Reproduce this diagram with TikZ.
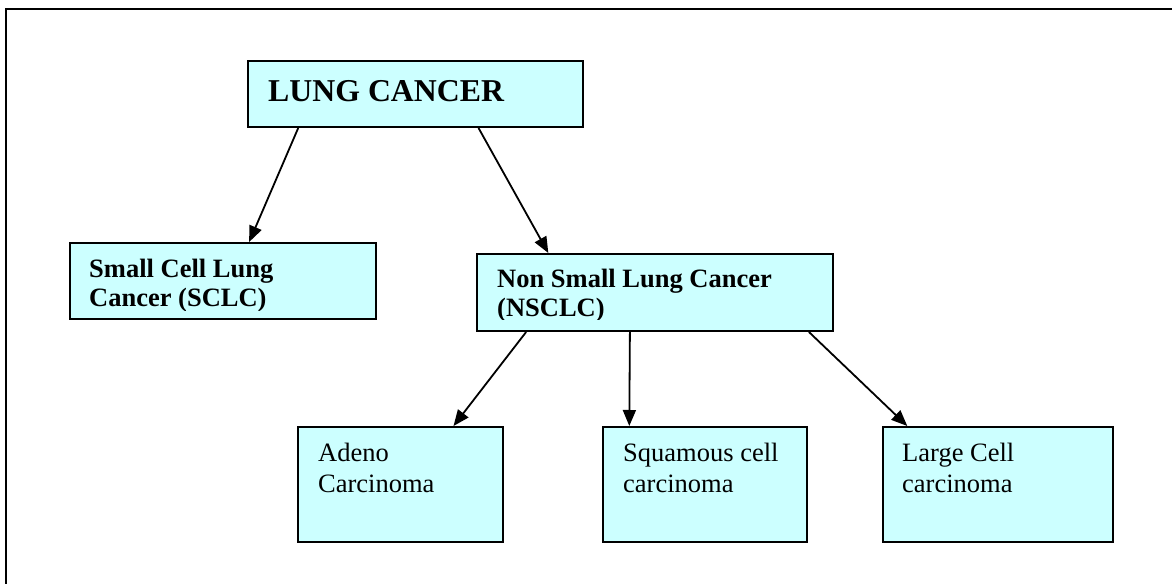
\documentclass[tikz,border=0pt]{standalone}
\usepackage{fontspec}
\setmainfont{Liberation Serif}
\usetikzlibrary{arrows.meta,calc}
\definecolor{boxfill}{HTML}{CCFFFF}
\tikzset{
  box/.style={draw=black, fill=boxfill, line width=2bp, rectangle, inner sep=0, anchor=north west},
  lbl/.style={anchor=base west, inner sep=0, font=\fontsize{26.5bp}{31bp}\selectfont},
  blbl/.style={anchor=base west, inner sep=0, font=\fontsize{26.5bp}{31bp}\selectfont\bfseries},
  arr/.style={line width=1.8bp, -{Triangle[length=16bp,width=13bp]}},
  frame/.style={line width=2.5bp}
}
\begin{document}
\begin{tikzpicture}[x=1bp,y=-1bp]
\useasboundingbox (0,0) rectangle (1172,584);
\fill[white] (0,0) rectangle (1172,584);
% outer frame (top and left edges only)
\coordinate (f1) at (1172,9);
\coordinate (f2) at (6,9);
\coordinate (f3) at (6,584);
\draw[frame] (f1) -- (f2) -- (f3);

% boxes
\node[box, minimum width=335bp, minimum height=66bp] (lung) at (247,60) {};
\node[box, minimum width=306bp, minimum height=76bp] (sclc) at (69,242) {};
\node[box, minimum width=356bp, minimum height=77bp] (nsclc) at (476,253) {};
\node[box, minimum width=205bp, minimum height=115bp] (adeno) at (297,426) {};
\node[box, minimum width=204bp, minimum height=115bp] (squam) at (602,426) {};
\node[box, minimum width=230bp, minimum height=115bp] (large) at (882,426) {};

% texts
\node[anchor=base west, inner sep=0, font=\fontsize{31.8bp}{36bp}\selectfont\bfseries] (t1) at (268,102) {LUNG CANCER};
\begin{scope}
\clip (70,243) rectangle (374,310);
\node[blbl] (t2a) at (89,278) {Small Cell Lung};
\node[blbl] (t2b) at (89,307) {Cancer (SCLC)};
\end{scope}
\begin{scope}
\clip (477,254) rectangle (831,319);
\node[blbl] (t3a) at (497,288) {Non Small Lung Cancer};
\node[blbl] (t3b) at (497,317) {(NSCLC)};
\end{scope}
\node[lbl] (t4a) at (318,461) {Adeno};
\node[lbl] (t4b) at (318,492) {Carcinoma};
\node[lbl] (t5a) at (623,461) {Squamous cell};
\node[lbl] (t5b) at (623,492) {carcinoma};
\node[lbl] (t6a) at (902,461) {Large Cell};
\node[lbl] (t6b) at (902,492) {carcinoma};

% connectors
\draw[arr] ($(lung.south west)!0.152!(lung.south east)$) -- ($(sclc.north west)!0.585!(sclc.north east)$);
\draw[arr] ($(lung.south west)!0.687!(lung.south east)$) -- ($(nsclc.north west)!0.202!(nsclc.north east)$);
\draw[arr] ($(nsclc.south west)!0.140!(nsclc.south east)$) -- ($(adeno.north west)!0.756!(adeno.north east)$);
\draw[arr] ($(nsclc.south west)!0.4299!(nsclc.south east)$) -- ($(squam.north west)!0.1325!(squam.north east)$);
\draw[arr] ($(nsclc.south west)!0.930!(nsclc.south east)$) -- ($(large.north west)!0.109!(large.north east)$);
\end{tikzpicture}
\end{document}
